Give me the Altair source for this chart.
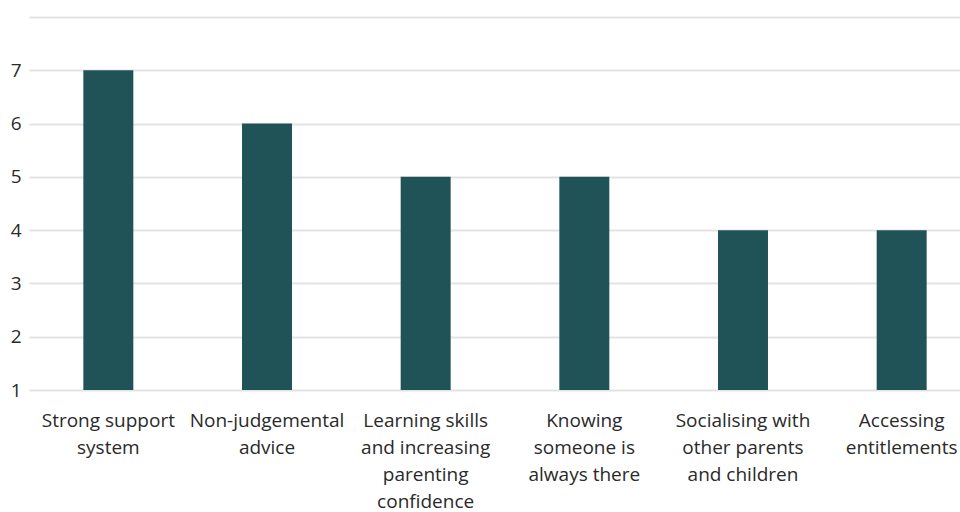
import altair as alt
import pandas as pd

categories = [
    "Strong support system",
    "Non-judgemental advice",
    "Learning skills and increasing parenting confidence",
    "Knowing someone is always there",
    "Socialising with other parents and children",
    "Accessing entitlements",
]
label_lines = [
    ["Strong support", "system"],
    ["Non-judgemental", "advice"],
    ["Learning skills", "and increasing", "parenting", "confidence"],
    ["Knowing", "someone is", "always there"],
    ["Socialising with", "other parents", "and children"],
    ["Accessing", "entitlements"],
]
values = [7, 6, 5, 5, 4, 4]
y_ticks = [1, 2, 3, 4, 5, 6, 7, 8]

df = pd.DataFrame({"category": categories, "value": values})

mapping = ", ".join(
    "'" + c + "': [" + ", ".join("'" + l + "'" for l in lines) + "]"
    for c, lines in zip(categories, label_lines)
)
label_expr = "{" + mapping + "}[datum.label]"

FONT = "Open Sans"

chart = (
    alt.Chart(df)
    .mark_bar(color="#1f5357")
    .encode(
        x=alt.X(
            "category:N",
            sort=categories,
            scale=alt.Scale(range=[0, 952], paddingInner=0.685, paddingOuter=0.3425),
            axis=alt.Axis(
                title=None,
                labelAngle=0,
                labelExpr=label_expr,
                labelFont=FONT,
                labelFontSize=19,
                labelFontWeight=500,
                labelColor="#2a2a2a",
                labelLineHeight=27,
                labelPadding=21,
                labelBaseline="top",
                ticks=False,
                domain=False,
                labelLimit=300,
            ),
        ),
        y=alt.Y(
            "value:Q",
            scale=alt.Scale(domain=[1, 8], nice=False, zero=False),
            axis=alt.Axis(
                title=None,
                values=y_ticks,
                labelExpr="datum.value == 8 ? '' : datum.label",
                labelFont=FONT,
                labelFontSize=19,
                labelFontWeight=500,
                labelColor="#2a2a2a",
                labelPadding=8,
                ticks=False,
                domain=False,
                gridColor="#e3e3e3",
                gridWidth=2,
            ),
        ),
        y2=alt.datum(1),
    )
    .properties(
        width=931,
        height=373,
        autosize=alt.AutoSizeParams(type="none"),
        padding={"left": 29, "top": 17, "right": 0, "bottom": 122},
    )
    .configure_view(stroke=None)
)

chart.save("out.html", embed_options={"renderer": "svg", "actions": False})
